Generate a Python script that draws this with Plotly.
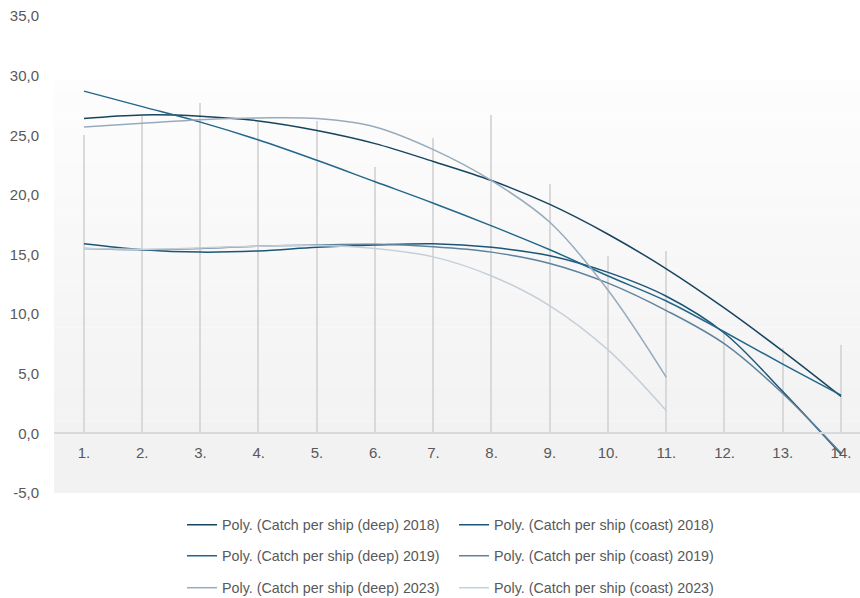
import plotly.graph_objects as go

# ---------------- data ----------------
categories = [1, 2, 3, 4, 5, 6, 7, 8, 9, 10, 11, 12, 13, 14]
x_tick_labels = ["1.", "2.", "3.", "4.", "5.", "6.", "7.", "8.", "9.", "10.", "11.", "12.", "13.", "14."]
y_tick_values = [-5, 0, 5, 10, 15, 20, 25, 30, 35]
y_tick_labels = ["-5,0", "0,0", "5,0", "10,0", "15,0", "20,0", "25,0", "30,0", "35,0"]

catch_columns = [25.0, 26.6, 27.7, 26.1, 26.2, 22.3, 24.8, 26.7, 20.9, 14.9, 15.3, 8.4, 7.2, 7.4]

deep_2018 = [26.4, 26.7, 26.6, 26.2, 25.4, 24.3, 22.8, 21.2, 19.2, 16.7, 13.8, 10.5, 6.9, 3.1]
coast_2018 = [15.9, 15.4, 15.2, 15.3, 15.6, 15.8, 15.9, 15.6, 14.9, 13.5, 11.5, 8.4, 3.5, -1.75]
deep_2019 = [28.7, 27.4, 26.1, 24.6, 22.9, 21.1, 19.3, 17.4, 15.4, 13.2, 11.1, 8.5, 5.8, 3.2]
coast_2019 = [15.5, 15.4, 15.5, 15.7, 15.8, 15.85, 15.65, 15.2, 14.25, 12.6, 10.3, 7.5, 3.35, -1.65]
deep_2023 = [25.7, 26.0, 26.3, 26.45, 26.4, 25.7, 23.8, 21.2, 17.7, 12.0, 4.7, None, None, None]
coast_2023 = [15.5, 15.45, 15.55, 15.7, 15.75, 15.5, 14.8, 13.2, 10.7, 7.0, 1.9, None, None, None]

series_names = [
    "Poly. (Catch per ship (deep) 2018)",
    "Poly. (Catch per ship (coast) 2018)",
    "Poly. (Catch per ship (deep) 2019)",
    "Poly. (Catch per ship (coast) 2019)",
    "Poly. (Catch per ship (deep) 2023)",
    "Poly. (Catch per ship (coast) 2023)",
]
series_values = [deep_2018, coast_2018, deep_2019, coast_2019, deep_2023, coast_2023]
series_colors = ["#17445f", "#1c5677", "#22668a", "#5f829d", "#98abbd", "#c6cfd8"]
series_legends = ["legend", "legend", "legend2", "legend2", "legend3", "legend3"]

# ---------------- figure ----------------
fig = go.Figure()

# background: gradient in the plot area above zero, flat grey below zero
top_val = 29.6
n_bands = 30
for i in range(n_bands):
    y0 = top_val * i / n_bands
    y1 = top_val * (i + 1) / n_bands
    t = (i + 0.5) / n_bands
    c = int(round(242 + (253 - 242) * t))
    fig.add_shape(type="rect", xref="paper", x0=0, x1=1, yref="y", y0=y0, y1=y1,
                  fillcolor=f"rgb({c},{c},{c})", line_width=0, layer="below")
fig.add_shape(type="rect", xref="paper", x0=0, x1=1, yref="y", y0=-5, y1=0,
              fillcolor="#f2f2f2", line_width=0, layer="below")

fig.add_trace(go.Bar(
    x=categories, y=catch_columns, width=0.026,
    marker=dict(color="#d9d9d9", line=dict(width=0)),
    showlegend=False, hoverinfo="skip",
))

for name, vals, color, lg in zip(series_names, series_values, series_colors, series_legends):
    fig.add_trace(go.Scatter(
        x=categories, y=vals, mode="lines", name=name, legend=lg,
        line=dict(color=color, width=1.5, shape="spline", smoothing=1.0),
        connectgaps=False,
    ))

font_family = "Liberation Sans, Arial, sans-serif"
legend_common = dict(orientation="h", xanchor="left", yanchor="middle", x=0.1588,
                     entrywidth=227, entrywidthmode="pixels",
                     font=dict(family=font_family, size=14.3, color="#595959"),
                     bgcolor="rgba(0,0,0,0)", borderwidth=0)

fig.update_layout(
    width=860, height=598,
    margin=dict(l=54, r=0, t=16, b=105, autoexpand=False),
    paper_bgcolor="white",
    plot_bgcolor="rgba(0,0,0,0)",
    font=dict(family=font_family, size=15, color="#595959"),
    bargap=0,
    showlegend=True,
    legend=dict(legend_common, y=-0.067),
    legend2=dict(legend_common, y=-0.132),
    legend3=dict(legend_common, y=-0.199),
)

fig.update_yaxes(
    range=[-5, 35], tickvals=y_tick_values, ticktext=y_tick_labels,
    showgrid=False, zeroline=False, showline=False, ticks="",
    ticklabelstandoff=14, automargin=False,
    tickfont=dict(size=15, color="#595959"),
)
fig.update_xaxes(
    range=[0.485, 14.326], tickvals=categories, ticktext=x_tick_labels,
    anchor="free", position=0.125, automargin=False,
    showline=True, linecolor="#d9d9d9", linewidth=1.5,
    showgrid=False, zeroline=False, ticks="",
    ticklabelstandoff=6, tickfont=dict(size=15, color="#595959"),
)

fig.write_html(
    "out.html",
    config={"displayModeBar": False},
    post_script="document.body.style.margin='0';document.body.style.overflow='hidden';",
)
